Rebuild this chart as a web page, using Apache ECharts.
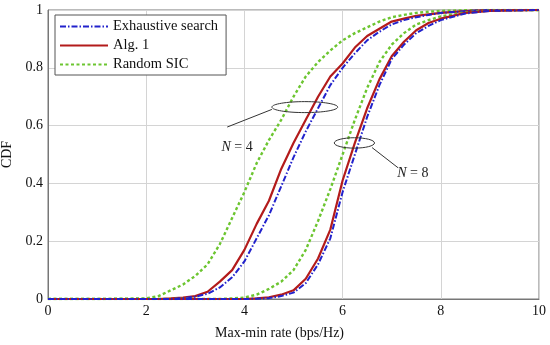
<!DOCTYPE html>
<html>
<head>
<meta charset="utf-8">
<script src="https://cdn.jsdelivr.net/npm/echarts@6/dist/echarts.min.js"></script>
<style>html,body{margin:0;padding:0;background:#fff;}#c{width:550px;height:345px;}</style>
</head>
<body>
<div id="c"></div>
<script>
var xs = [0,1,2,2.25,2.5,2.75,3,3.25,3.5,3.75,4,4.25,4.5,4.75,5,5.25,5.5,5.75,6,6.25,6.5,6.75,7,7.25,7.5,7.75,8,8.5,9,10];
var exh4 = [0,0,0,0,0,0.003,0.008,0.018,0.04,0.075,0.13,0.21,0.29,0.39,0.49,0.58,0.66,0.74,0.80,0.85,0.895,0.925,0.95,0.965,0.975,0.983,0.99,0.996,1,1];
var alg4 = [0,0,0,0,0.002,0.005,0.01,0.025,0.06,0.10,0.17,0.26,0.34,0.45,0.54,0.62,0.70,0.77,0.815,0.87,0.91,0.935,0.96,0.97,0.98,0.985,0.99,0.996,1,1];
var rnd4 = [0,0,0.002,0.01,0.03,0.05,0.08,0.12,0.19,0.28,0.37,0.47,0.55,0.62,0.70,0.77,0.82,0.86,0.895,0.92,0.94,0.96,0.975,0.983,0.99,0.994,0.997,0.999,1,1];
var exh8 = [0,0,0,0,0,0,0,0,0,0,0,0.001,0.003,0.01,0.022,0.055,0.12,0.21,0.37,0.50,0.63,0.74,0.83,0.88,0.92,0.945,0.965,0.988,0.997,1];
var alg8 = [0,0,0,0,0,0,0,0,0,0,0,0.002,0.006,0.015,0.03,0.07,0.14,0.24,0.41,0.54,0.66,0.76,0.84,0.89,0.93,0.955,0.97,0.99,0.997,1];
var rnd8 = [0,0,0,0,0,0,0,0,0,0.002,0.005,0.015,0.035,0.06,0.10,0.17,0.27,0.38,0.50,0.62,0.73,0.82,0.88,0.92,0.95,0.965,0.978,0.992,0.998,1];
var seriesNames = ['Exhaustive search','Alg. 1','Random SIC'];
var xTicks = [0,2,4,6,8,10];
var yTicks = [0,0.2,0.4,0.6,0.8,1];
// annotations in data coordinates
var ell4 = {cx:5.23, cy:0.664, rx:0.67, ry:0.019};
var ell8 = {cx:6.24, cy:0.54, rx:0.41, ry:0.018};
var lead4 = [[3.65,0.595],[4.56,0.656]];
var lead8 = [[6.6,0.524],[7.13,0.454]];
var lab4 = {x:3.85, y:0.526, t:'N = 4'};
var lab8 = {x:7.43, y:0.436, t:'N = 8'};

function pairs(v){ return xs.map(function(x,i){ return [x, v[i]]; }); }
var FONT = 'Liberation Serif';
var styles = {
  'Exhaustive search': {color:'#2222cc', width:2, type:[6,2,1.5,2]},
  'Alg. 1': {color:'#b31b1b', width:2.2, type:'solid'},
  'Random SIC': {color:'#6cc530', width:2.4, type:[3,2.5]}
};
function mk(name, v){
  var s = styles[name];
  return {name:name, type:'line', data:pairs(v), showSymbol:false, symbol:'none', smooth:false,
    lineStyle:{color:s.color, width:s.width, type:s.type}, itemStyle:{color:s.color}, animation:false, z:2};
}
var chart = echarts.init(document.getElementById('c'));
chart.setOption({
  animation:false,
  textStyle:{fontFamily:FONT},
  grid:{left:48, right:11, top:10, bottom:46, containLabel:false, outerBoundsMode:'none', show:true, borderColor:'#777', borderWidth:1},
  legend:{data:seriesNames, orient:'vertical', left:55, top:15, itemWidth:48, itemHeight:10, itemGap:4,
    padding:[4,8,3,4], backgroundColor:'#fff', borderColor:'#555', borderWidth:1, borderRadius:0,
    itemStyle:{opacity:0},
    textStyle:{fontFamily:FONT, fontSize:14.5, color:'#111'}, z:10},
  xAxis:{type:'value', min:0, max:10, interval:2, name:'Max-min rate (bps/Hz)', nameLocation:'middle', nameGap:27,
    nameTextStyle:{fontFamily:FONT, fontSize:14, color:'#111', padding:[0,28,0,0]},
    axisLine:{show:true, lineStyle:{color:'#777'}}, axisTick:{show:false},
    axisLabel:{fontFamily:FONT, fontSize:14, color:'#111', margin:5, formatter:function(v){return xTicks.indexOf(v)>=0?String(v):'';}},
    splitLine:{show:true, lineStyle:{color:'#d4d4d4', width:1}}},
  yAxis:{type:'value', min:0, max:1, interval:0.2, name:'CDF', nameLocation:'middle', nameGap:33, nameRotate:90,
    nameTextStyle:{fontFamily:FONT, fontSize:14, color:'#111'},
    axisLine:{show:true, lineStyle:{color:'#777'}}, axisTick:{show:false},
    axisLabel:{fontFamily:FONT, fontSize:14, color:'#111', margin:5, formatter:function(v){ for(var i=0;i<yTicks.length;i++){ if(Math.abs(yTicks[i]-v)<1e-6) return String(yTicks[i]); } return ''; }},
    splitLine:{show:true, lineStyle:{color:'#d4d4d4', width:1}}},
  series:[mk('Random SIC',rnd4), mk('Alg. 1',alg4), mk('Exhaustive search',exh4),
          mk('Random SIC',rnd8), mk('Alg. 1',alg8), mk('Exhaustive search',exh8)]
});
function px(p){ return chart.convertToPixel({gridIndex:0}, p); }
function ellipse(e){
  var c = px([e.cx,e.cy]); var a = px([e.cx+e.rx, e.cy+e.ry]);
  return {type:'ellipse', shape:{cx:c[0], cy:c[1], rx:Math.abs(a[0]-c[0]), ry:Math.abs(a[1]-c[1])},
    style:{fill:'none', stroke:'#333', lineWidth:1}, z:20};
}
function lead(l){
  var a = px(l[0]), b = px(l[1]);
  return {type:'line', shape:{x1:a[0], y1:a[1], x2:b[0], y2:b[1]}, style:{stroke:'#333', lineWidth:1}, z:20};
}
function label(l){
  var c = px([l.x,l.y]);
  return {type:'text', x:c[0], y:c[1], style:{text:'{i|N} = ' + l.t.split('= ')[1], align:'center', verticalAlign:'middle',
    font:'14px ' + FONT, fill:'#222', rich:{i:{fontStyle:'italic', fontFamily:FONT, fontSize:14, fill:'#222'}}}, z:20};
}
chart.setOption({graphic:[ellipse(ell4), ellipse(ell8), lead(lead4), lead(lead8), label(lab4), label(lab8)]});
</script>
</body>
</html>
